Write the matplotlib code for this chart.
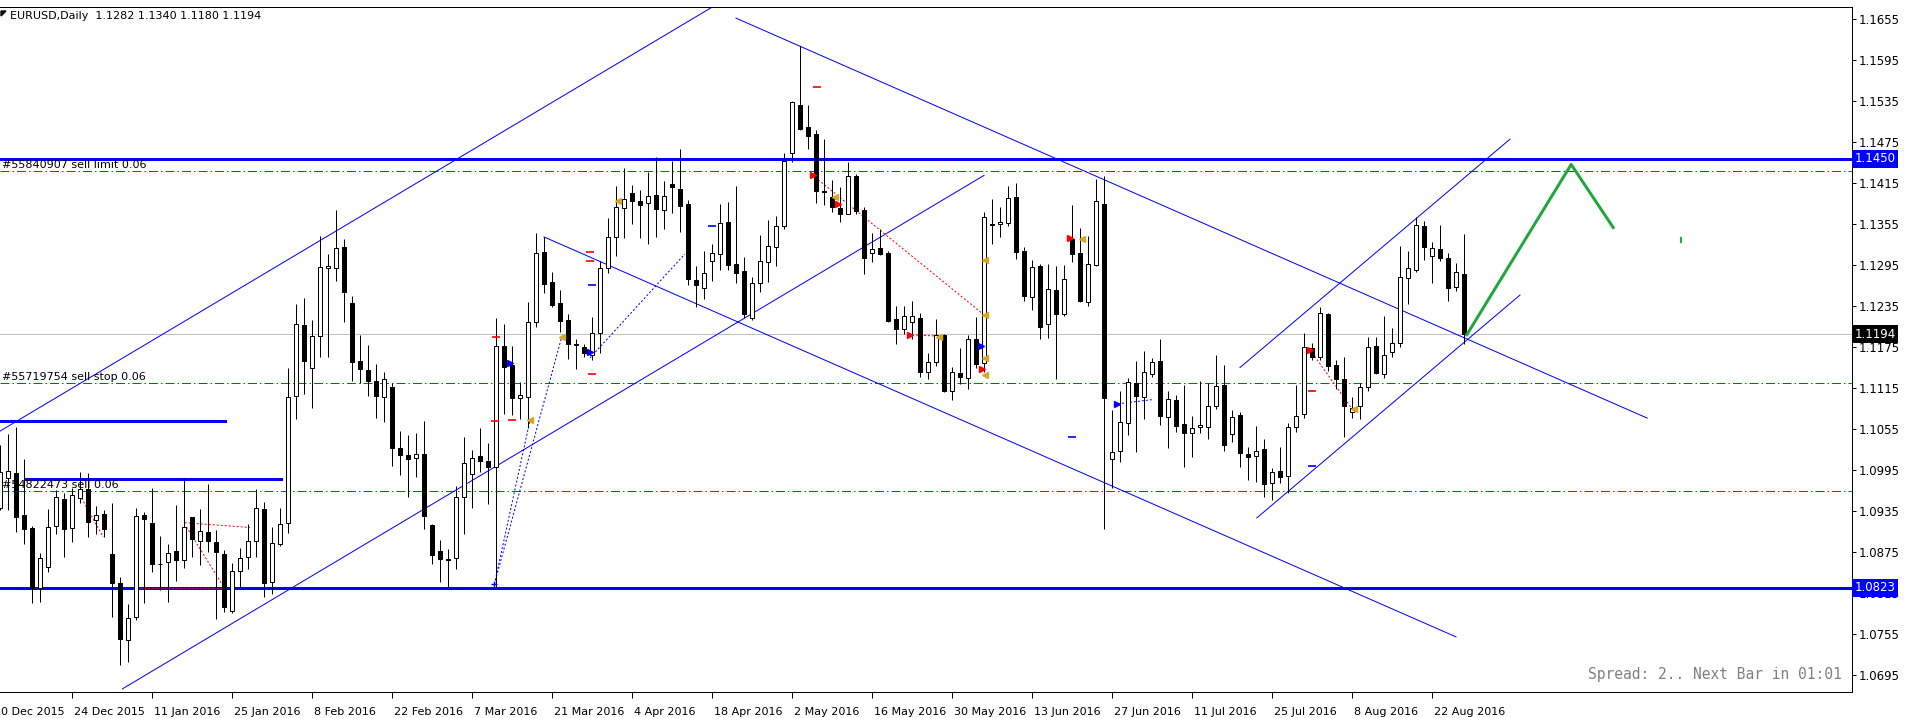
import numpy as np
import matplotlib
matplotlib.use('Agg')
import matplotlib.pyplot as plt
import matplotlib.transforms as mtransforms
from matplotlib.patches import Rectangle

# EURUSD daily bars, bar 0 = 11 Dec 2015 ... bar 183 = 26 Aug 2016
opens = [1.0939, 1.0983, 1.0991, 1.0929, 1.0910, 1.0822, 1.0853, 1.0913, 1.0953, 1.0910,
         1.0954, 1.0967, 1.0922, 1.0931, 1.0872, 1.0830, 1.0746, 1.0780, 1.0929, 1.0918,
         1.0858, 1.0860, 1.0876, 1.0863, 1.0926, 1.0891, 1.0904, 1.0890, 1.0872, 1.0789,
         1.0847, 1.0868, 1.0891, 1.0938, 1.0831, 1.0887, 1.0918, 1.1103, 1.1207, 1.1144,
         1.1191, 1.1291, 1.1291, 1.1321, 1.1239, 1.1154, 1.1141, 1.1125, 1.1102, 1.1116,
         1.1027, 1.1017, 1.1013, 1.1018, 1.0915, 1.0876, 1.0865, 1.0866, 1.0956, 1.0989,
         1.1016, 1.1008, 1.0999, 1.1176, 1.1149, 1.1100, 1.1102, 1.1212, 1.1314, 1.1270,
         1.1239, 1.1214, 1.1179, 1.1175, 1.1163, 1.1195, 1.1291, 1.1336, 1.1378, 1.1400,
         1.1389, 1.1386, 1.1397, 1.1375, 1.1413, 1.1406, 1.1384, 1.1273, 1.1261, 1.1301,
         1.1311, 1.1358, 1.1296, 1.1286, 1.1217, 1.1269, 1.1299, 1.1321, 1.1352, 1.1459,
         1.1529, 1.1497, 1.1487, 1.1403, 1.1394, 1.1378, 1.1370, 1.1425, 1.1375, 1.1312,
         1.1320, 1.1312, 1.1216, 1.1201, 1.1212, 1.1217, 1.1138, 1.1153, 1.1193, 1.1111,
         1.1137, 1.1130, 1.1187, 1.1152, 1.1355, 1.1355, 1.1356, 1.1394, 1.1315, 1.1248,
         1.1294, 1.1209, 1.1258, 1.1223, 1.1333, 1.1312, 1.1241, 1.1295, 1.1384, 1.1011,
         1.1023, 1.1064, 1.1122, 1.1102, 1.1135, 1.1154, 1.1073, 1.1097, 1.1062, 1.1049,
         1.1058, 1.1058, 1.1088, 1.1119, 1.1048, 1.1075, 1.1018, 1.1016, 1.1026, 1.0976,
         1.0993, 1.0986, 1.1058, 1.1077, 1.1174, 1.1160, 1.1223, 1.1149, 1.1128, 1.1080,
         1.1089, 1.1116, 1.1176, 1.1135, 1.1168, 1.1181, 1.1276, 1.1288, 1.1352, 1.1308,
         1.1318, 1.1305, 1.1263, 1.1282]
highs = [1.1032, 1.1048, 1.1058, 1.1011, 1.0913, 1.0874, 1.0938, 1.0966, 1.0961, 1.0969,
         1.0992, 1.0991, 1.0942, 1.0937, 1.0947, 1.0838, 1.0799, 1.0939, 1.0934, 1.0969,
         1.0898, 1.0887, 1.0944, 1.0983, 1.0927, 1.0938, 1.0975, 1.0907, 1.0878, 1.0859,
         1.0881, 1.0916, 1.0967, 1.0948, 1.0912, 1.0939, 1.1144, 1.1238, 1.1247, 1.1214,
         1.1337, 1.1311, 1.1375, 1.1333, 1.1250, 1.1193, 1.1178, 1.1150, 1.1138, 1.1122,
         1.1052, 1.1046, 1.1049, 1.1067, 1.0916, 1.0893, 1.0879, 1.0972, 1.1043, 1.1024,
         1.1056, 1.1035, 1.1217, 1.1209, 1.1176, 1.1124, 1.1241, 1.1342, 1.1336, 1.1285,
         1.1258, 1.1223, 1.1187, 1.1179, 1.1219, 1.1301, 1.1364, 1.1411, 1.1437, 1.1412,
         1.1405, 1.1431, 1.1453, 1.1418, 1.1447, 1.1465, 1.1390, 1.1293, 1.1315, 1.1326,
         1.1384, 1.1387, 1.1411, 1.1307, 1.1277, 1.1339, 1.1361, 1.1367, 1.1459, 1.1535,
         1.1615, 1.1529, 1.1492, 1.1479, 1.1419, 1.1409, 1.1446, 1.1428, 1.1380, 1.1342,
         1.1348, 1.1315, 1.1235, 1.1235, 1.1242, 1.1225, 1.1166, 1.1216, 1.1194, 1.1146,
         1.1174, 1.1193, 1.1219, 1.1372, 1.1392, 1.1380, 1.1411, 1.1415, 1.1321, 1.1302,
         1.1296, 1.1296, 1.1293, 1.1295, 1.1383, 1.1349, 1.1337, 1.1421, 1.1425, 1.1083,
         1.1111, 1.1130, 1.1154, 1.1169, 1.1159, 1.1187, 1.1111, 1.1105, 1.1119, 1.1074,
         1.1125, 1.1122, 1.1163, 1.1149, 1.1083, 1.1080, 1.1029, 1.1059, 1.1040, 1.0998,
         1.1029, 1.1064, 1.1119, 1.1195, 1.1181, 1.1233, 1.1225, 1.1156, 1.1160, 1.1102,
         1.1122, 1.1190, 1.1190, 1.1220, 1.1203, 1.1323, 1.1315, 1.1365, 1.1359, 1.1329,
         1.1353, 1.1312, 1.1298, 1.1340]
lows = [1.0937, 1.0937, 1.0904, 1.0887, 1.0800, 1.0802, 1.0846, 1.0901, 1.0868, 1.0890,
        1.0947, 1.0897, 1.0901, 1.0897, 1.0780, 1.0710, 1.0714, 1.0776, 1.0800, 1.0846,
        1.0819, 1.0802, 1.0833, 1.0852, 1.0868, 1.0856, 1.0875, 1.0777, 1.0787, 1.0786,
        1.0822, 1.0850, 1.0868, 1.0809, 1.0814, 1.0884, 1.0903, 1.1070, 1.1106, 1.1086,
        1.1160, 1.1160, 1.1272, 1.1212, 1.1125, 1.1122, 1.1103, 1.1071, 1.1065, 1.1001,
        1.0988, 1.0956, 1.0985, 1.0909, 1.0858, 1.0831, 1.0823, 1.0850, 1.0901, 1.0939,
        1.0992, 1.0945, 1.0823, 1.1077, 1.1075, 1.1070, 1.1056, 1.1204, 1.1254, 1.1233,
        1.1197, 1.1157, 1.1143, 1.1160, 1.1156, 1.1166, 1.1283, 1.1308, 1.1334, 1.1355,
        1.1334, 1.1326, 1.1336, 1.1348, 1.1371, 1.1343, 1.1266, 1.1233, 1.1245, 1.1272,
        1.1288, 1.1288, 1.1269, 1.1217, 1.1215, 1.1255, 1.1270, 1.1293, 1.1348, 1.1446,
        1.1493, 1.1465, 1.1386, 1.1383, 1.1372, 1.1358, 1.1369, 1.1370, 1.1282, 1.1299,
        1.1310, 1.1211, 1.1179, 1.1194, 1.1187, 1.1131, 1.1128, 1.1147, 1.1109, 1.1097,
        1.1121, 1.1114, 1.1144, 1.1138, 1.1326, 1.1336, 1.1352, 1.1304, 1.1242, 1.1229,
        1.1187, 1.1188, 1.1128, 1.1220, 1.1299, 1.1241, 1.1235, 1.1293, 1.0909, 1.0969,
        1.1007, 1.1046, 1.1021, 1.1070, 1.1131, 1.1061, 1.1027, 1.1051, 1.0999, 1.1014,
        1.1049, 1.1040, 1.1084, 1.1023, 1.1036, 1.0999, 1.0980, 1.0978, 1.0956, 1.0951,
        1.0976, 1.0961, 1.1051, 1.1071, 1.1156, 1.1156, 1.1140, 1.1114, 1.1043, 1.1071,
        1.1070, 1.1111, 1.1135, 1.1130, 1.1160, 1.1175, 1.1238, 1.1285, 1.1302, 1.1269,
        1.1301, 1.1242, 1.1257, 1.1180]
closes = [1.0992, 1.0993, 1.0926, 1.0909, 1.0822, 1.0866, 1.0912, 1.0956, 1.0909, 1.0958,
          1.0967, 1.0919, 1.0929, 1.0909, 1.0830, 1.0748, 1.0778, 1.0928, 1.0923, 1.0858,
          1.0857, 1.0874, 1.0863, 1.0912, 1.0894, 1.0906, 1.0891, 1.0875, 1.0795, 1.0847,
          1.0866, 1.0891, 1.0939, 1.0830, 1.0888, 1.0916, 1.1102, 1.1209, 1.1154, 1.1191,
          1.1292, 1.1294, 1.1320, 1.1255, 1.1153, 1.1143, 1.1125, 1.1103, 1.1128, 1.1027,
          1.1017, 1.1011, 1.1018, 1.0928, 1.0871, 1.0865, 1.0864, 1.0956, 1.1005, 1.1013,
          1.1008, 1.0999, 1.1176, 1.1146, 1.1100, 1.1105, 1.1212, 1.1312, 1.1267, 1.1236,
          1.1213, 1.1179, 1.1178, 1.1166, 1.1195, 1.1291, 1.1336, 1.1380, 1.1392, 1.1389,
          1.1383, 1.1396, 1.1377, 1.1396, 1.1409, 1.1381, 1.1274, 1.1266, 1.1283, 1.1312,
          1.1356, 1.1295, 1.1283, 1.1223, 1.1269, 1.1301, 1.1323, 1.1352, 1.1447, 1.1533,
          1.1494, 1.1484, 1.1403, 1.1402, 1.1380, 1.1370, 1.1425, 1.1374, 1.1305, 1.1318,
          1.1311, 1.1213, 1.1201, 1.1220, 1.1220, 1.1138, 1.1153, 1.1193, 1.1111, 1.1138,
          1.1131, 1.1187, 1.1150, 1.1365, 1.1353, 1.1358, 1.1393, 1.1314, 1.1250, 1.1292,
          1.1204, 1.1260, 1.1223, 1.1274, 1.1311, 1.1242, 1.1296, 1.1389, 1.1101, 1.1021,
          1.1065, 1.1124, 1.1103, 1.1138, 1.1153, 1.1074, 1.1099, 1.1059, 1.1049, 1.1056,
          1.1061, 1.1089, 1.1118, 1.1032, 1.1073, 1.1020, 1.1014, 1.1023, 1.0975, 1.0992,
          1.0985, 1.1058, 1.1074, 1.1175, 1.1160, 1.1225, 1.1147, 1.1128, 1.1088, 1.1086,
          1.1116, 1.1175, 1.1137, 1.1163, 1.1181, 1.1277, 1.1291, 1.1353, 1.1321, 1.1320,
          1.1305, 1.1261, 1.1285, 1.1194]

# time axis labels (bar index of each label)
date_idx = [-1, 9, 19, 29, 39, 49, 59, 69, 79, 89, 99, 109, 119, 129, 139, 149, 159, 169, 179]
date_labels = ['10 Dec 2015', '24 Dec 2015', '11 Jan 2016', '25 Jan 2016', '8 Feb 2016',
               '22 Feb 2016', '7 Mar 2016', '21 Mar 2016', '4 Apr 2016', '18 Apr 2016',
               '2 May 2016', '16 May 2016', '30 May 2016', '13 Jun 2016', '27 Jun 2016',
               '11 Jul 2016', '25 Jul 2016', '8 Aug 2016', '22 Aug 2016']
price_ticks = [1.1655, 1.1595, 1.1535, 1.1475, 1.1415, 1.1355, 1.1295, 1.1235, 1.1175,
               1.1115, 1.1055, 1.0995, 1.0935, 1.0875, 1.0815, 1.0755, 1.0695]

# horizontal levels
hline_levels = [1.1450, 1.0823]
bid = 1.1194
order_levels = [1.1432, 1.1122, 1.0964]
order_texts = ['#55840907 sell limit 0.06', '#55719754 sell stop 0.06', '#54822473 sell 0.06']
short_levels = [(0, 28.1, 1.1067), (3.1, 35.1, 1.0982)]

# trendlines as (bar, price) pairs
trendlines = [
    ((0, 1.1052), (89.0, 1.1672)),
    ((15.3, 1.0675), (123.0, 1.1426)),
    ((92.0, 1.1656), (205.9, 1.1071)),
    ((68.0, 1.1336), (182.0, 1.0751)),
    ((155.0, 1.1145), (188.75, 1.1479)),
    ((157.1, 1.0925), (190.0, 1.1251)),
]
arrow_bars = [183.25, 196.4, 201.75]
arrow_prices = [1.1191, 1.1442, 1.1348]

# trade history marks
blue_dotted = [((61.8, 1.0828), (70.2, 1.1189)), ((61.8, 1.0828), (66.25, 1.1068)),
               ((73.75, 1.1159), (85.6, 1.1311)), ((139.75, 1.1092), (144.0, 1.1098))]
red_dotted = [((10.2, 1.0954), (12.9, 1.0897)), ((23.1, 1.0918), (31.25, 1.0911)),
              ((23.3, 1.0912), (27.7, 1.0829)), ((17.5, 1.0823), (27.7, 1.0823)),
              ((101.5, 1.1427), (122.9, 1.1223)), ((113.5, 1.1193), (117.25, 1.1191)),
              ((163.75, 1.1171), (169.1, 1.1083))]
orange_bars = [66.25, 70.2, 77.3, 104.4, 117.4, 123.1, 123.1, 123.1, 123.1, 135.3, 169.25]
orange_prices = [1.1068, 1.1189, 1.1389, 1.1395, 1.1190, 1.1134, 1.1159, 1.1302, 1.1222, 1.1333, 1.1084]
red_arrow_bars = [101.6, 104.7, 113.75, 122.7, 133.7, 163.75]
red_arrow_prices = [1.1427, 1.1384, 1.1193, 1.1143, 1.1334, 1.1170]
blue_arrow_bars = [63.75, 73.7, 139.6, 122.6]
blue_arrow_prices = [1.1152, 1.1167, 1.1092, 1.1177]
red_dash_bars = [62.0, 73.75, 73.75, 74.0, 64.0, 102.1, 164.0, 61.9]
red_dash_prices = [1.1189, 1.1314, 1.1301, 1.1135, 1.1068, 1.1555, 1.1111, 1.1067]
blue_dash_bars = [74.0, 89.0, 134.0, 164.0]
blue_dash_prices = [1.1266, 1.1352, 1.1043, 1.1001]

BLUE = '#0000ff'
GREEN = '#008000'
PX = 0.72  # one pixel in points

fig = plt.figure(figsize=(19.1, 7.18), dpi=100)
ax = fig.add_axes([0, 1 - 692 / 718, 1852 / 1910, 685 / 718])
ax.set_xlim(0, 231.5)
ax.set_ylim(1.06704, 1.16723)

# levels
for lv in hline_levels:
    ax.axhline(lv, color=BLUE, lw=3 * PX, zorder=2)
ax.axhline(bid, color='#c0c0c0', lw=PX, zorder=1)
for lv in order_levels:
    ax.axhline(lv, color=GREEN, lw=PX, ls=(0, (9, 3, 1.5, 3)), zorder=2)
for x0, x1, lv in short_levels:
    ax.plot([x0, x1], [lv, lv], color=BLUE, lw=3 * PX, zorder=2)
for (xa, ya), (xb, yb) in trendlines:
    ax.plot([xa, xb], [ya, yb], color=BLUE, lw=PX, zorder=2)
for (xa, ya), (xb, yb) in blue_dotted:
    ax.plot([xa, xb], [ya, yb], color=BLUE, lw=PX, ls=(0, (2, 2)), zorder=2)
for (xa, ya), (xb, yb) in red_dotted:
    ax.plot([xa, xb], [ya, yb], color='red', lw=PX, ls=(0, (2, 2)), zorder=2)

# candles
idx = np.arange(len(opens))
ax.vlines(idx, lows, highs, color='black', lw=PX, zorder=3)
for i in idx:
    o, c = opens[i], closes[i]
    up = c >= o
    ax.add_patch(Rectangle((i - 0.3, min(o, c)), 0.6, abs(c - o),
                           facecolor='white' if up else 'black',
                           edgecolor='black', lw=PX, zorder=4))

# markers
ax.plot(orange_bars, orange_prices, ls='none', marker='<', ms=4, color='#daa520', zorder=5)
ax.plot(red_arrow_bars, red_arrow_prices, ls='none', marker='>', ms=5, color='red', zorder=5)
ax.plot(blue_arrow_bars, blue_arrow_prices, ls='none', marker='>', ms=5, color=BLUE, zorder=5)
ax.plot(red_dash_bars, red_dash_prices, ls='none', marker='_', ms=6, mew=1.2, color='red', zorder=5)
ax.plot(blue_dash_bars, blue_dash_prices, ls='none', marker='_', ms=6, mew=1.2, color=BLUE, zorder=5)
ax.plot([61.8], [1.0828], ls='none', marker='+', ms=5, mew=1, color=BLUE, zorder=5)

# projection arrow
ax.plot(arrow_bars, arrow_prices, color='#21a63d', lw=3 * PX, zorder=6, solid_capstyle='butt')
ax.plot([210.1], [1.1331], ls='none', marker='|', ms=4, mew=1.5, color='#21a63d')

# order labels
for lv, s in zip(order_levels, order_texts):
    ax.text(0.25, lv + 0.0009, s, fontsize=8, va='center', ha='left', color='black', zorder=7)

ax.text(230.25, 1.06953, 'Spread: 2.. Next Bar in 01:01', family='DejaVu Sans Mono',
        fontsize=10.5, color='#808080', ha='right', va='center')

# axes styling
ax.spines['left'].set_visible(False)
for side in ['top', 'right', 'bottom']:
    ax.spines[side].set_linewidth(PX)
ax.yaxis.tick_right()
ax.set_yticks(price_ticks)
ax.set_yticklabels(['%.4f' % p for p in price_ticks], fontsize=8.5)
ax.tick_params(axis='y', direction='out', length=3, width=PX, pad=1.5)
ax.set_xticks([d for d in date_idx if d >= 0])
ax.set_xticklabels([])
ax.tick_params(axis='x', direction='out', length=4, width=PX)

tx = mtransforms.blended_transform_factory(ax.transData, ax.transAxes)
for d, s in zip(date_idx, date_labels):
    ax.text(d + 0.2, -0.029, s, transform=tx, fontsize=8, ha='left', va='center', clip_on=False)

ty = mtransforms.blended_transform_factory(ax.transAxes, ax.transData)
for lv, bg in [(1.1450, BLUE), (bid, 'black'), (1.0823, BLUE)]:
    ax.text(1.0015, lv, '%.4f' % lv, transform=ty, fontsize=8.5, color='white', ha='left',
            va='center', zorder=10, clip_on=False,
            bbox=dict(boxstyle='square,pad=0.2', fc=bg, ec='none'))

fig.text(10 / 1910, 1 - 16 / 718, 'EURUSD,Daily  1.1282 1.1340 1.1180 1.1194', fontsize=8,
         va='center', ha='left')
fig.patches.append(plt.Polygon([[1 / 1910, 1 - 11 / 718], [6 / 1910, 1 - 11 / 718],
                                [1 / 1910, 1 - 16 / 718]], closed=True, color='black',
                               transform=fig.transFigure))

fig.savefig('out.png', dpi=100, facecolor='white')
